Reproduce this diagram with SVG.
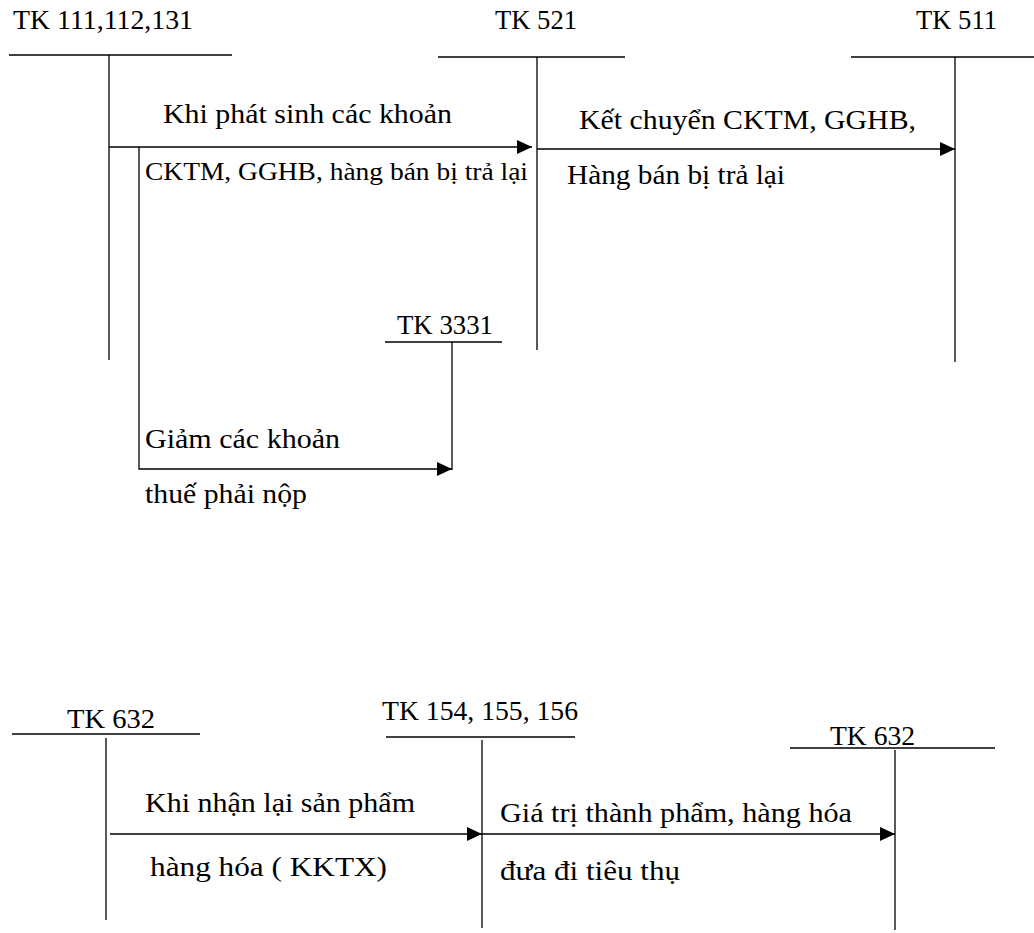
<svg xmlns="http://www.w3.org/2000/svg" width="1034" height="933" viewBox="0 0 1034 933" font-family="'Liberation Serif', 'DejaVu Serif', 'Noto Serif', serif">
<style>
text{font-family:'Liberation Serif','Tinos','DejaVu Serif','Noto Serif',serif;fill:#000;}
.h{font-size:27px;}
.l{font-size:28px;}
.s{font-size:26px;}
line,polyline{stroke:#000;stroke-width:1.3;fill:none;}
</style>
<defs>
<marker id="arr" markerUnits="userSpaceOnUse" markerWidth="16" markerHeight="14" refX="15" refY="7" orient="auto">
<path d="M0,0 L15,7 L0,14 Z" fill="#000"/>
</marker>
</defs>
<rect width="1034" height="933" fill="#fff"/>
<g id="tk111">
<text class="h" x="13" y="29" textLength="180" lengthAdjust="spacingAndGlyphs">TK 111,112,131</text>
<line x1="9" y1="55" x2="232" y2="55"/>
<line x1="109" y1="55" x2="109" y2="360"/>
</g>
<g id="tk521">
<text class="h" x="495" y="29" textLength="82" lengthAdjust="spacingAndGlyphs">TK 521</text>
<line x1="438" y1="57" x2="625" y2="57"/>
<line x1="537" y1="57" x2="537" y2="350"/>
</g>
<g id="tk511">
<text class="h" x="916" y="29" textLength="81" lengthAdjust="spacingAndGlyphs">TK 511</text>
<line x1="851" y1="57" x2="1034" y2="57"/>
<line x1="955" y1="57" x2="955" y2="362"/>
</g>
<g id="tk3331">
<text class="h" x="397" y="334" textLength="96" lengthAdjust="spacingAndGlyphs">TK 3331</text>
<line x1="385" y1="342" x2="502" y2="342"/>
<line x1="452" y1="342" x2="452" y2="470"/>
</g>
<g id="tk632a">
<text class="h" x="67" y="728" textLength="88" lengthAdjust="spacingAndGlyphs">TK 632</text>
<line x1="12" y1="734" x2="200" y2="734"/>
<line x1="106" y1="738" x2="106" y2="920"/>
</g>
<g id="tk154">
<text class="h" x="382" y="720" textLength="196" lengthAdjust="spacingAndGlyphs">TK 154, 155, 156</text>
<line x1="386" y1="737" x2="575" y2="737"/>
<line x1="482" y1="740" x2="482" y2="928"/>
</g>
<g id="tk632b">
<text class="h" x="830" y="745" textLength="85" lengthAdjust="spacingAndGlyphs">TK 632</text>
<line x1="790" y1="748" x2="995" y2="748"/>
<line x1="895" y1="750" x2="895" y2="930"/>
</g>
<g id="connectors">
<line x1="109" y1="147" x2="532" y2="147" marker-end="url(#arr)"/>
<line x1="537" y1="149" x2="955" y2="149" marker-end="url(#arr)"/>
<polyline points="139,147 139,469 452,469" marker-end="url(#arr)"/>
<line x1="110" y1="834" x2="482" y2="834" marker-end="url(#arr)"/>
<line x1="482" y1="834" x2="895" y2="834" marker-end="url(#arr)"/>
</g>
<g id="labels">
<text class="l" x="163" y="123" textLength="289" lengthAdjust="spacingAndGlyphs">Khi phát sinh các khoản</text>
<text class="s" x="145" y="180" textLength="383" lengthAdjust="spacingAndGlyphs">CKTM, GGHB, hàng bán bị trả lại</text>
<text class="l" x="579" y="129" textLength="337" lengthAdjust="spacingAndGlyphs">Kết chuyển CKTM, GGHB,</text>
<text class="l" x="567" y="184" textLength="218" lengthAdjust="spacingAndGlyphs">Hàng bán bị trả lại</text>
<text class="l" x="145" y="448" textLength="195" lengthAdjust="spacingAndGlyphs">Giảm các khoản</text>
<text class="l" x="145" y="503" textLength="162" lengthAdjust="spacingAndGlyphs">thuế phải nộp</text>
<text class="l" x="145" y="812" textLength="270" lengthAdjust="spacingAndGlyphs">Khi nhận lại sản phẩm</text>
<text class="l" x="150" y="876" textLength="237" lengthAdjust="spacingAndGlyphs">hàng hóa ( KKTX)</text>
<text class="l" x="500" y="822" textLength="352" lengthAdjust="spacingAndGlyphs">Giá trị thành phẩm, hàng hóa</text>
<text class="l" x="500" y="880" textLength="180" lengthAdjust="spacingAndGlyphs">đưa đi tiêu thụ</text>
</g>
</svg>
